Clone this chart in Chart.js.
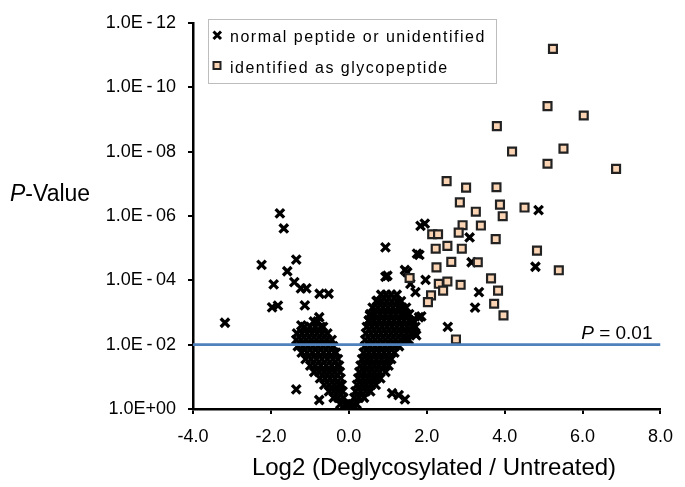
<!DOCTYPE html>
<html>
<head>
<meta charset="utf-8">
<title>Volcano plot</title>
<script src="https://cdn.jsdelivr.net/npm/chart.js@4.4.0/dist/chart.umd.min.js"></script>
<style>
  html, body { margin: 0; padding: 0; background: #fff; }
  #wrap { width: 685px; height: 487px; position: relative; }
</style>
</head>
<body>
<div id="wrap"><canvas id="volcano"></canvas></div>
<script>
// Data: x = log2(deglycosylated / untreated), y = -log10(P)
const xTicks = [-4, -2, 0, 2, 4, 6, 8];
const yTicks = [0, 2, 4, 6, 8, 10, 12];
const threshold = 2; // P = 0.01

// glycopeptides (squares)
const glycoPoints = [
  [5.24, 11.19], [5.10, 9.41], [6.03, 9.12], [3.80, 8.79], [4.19, 8.00], [5.51, 8.09],
  [5.10, 7.62], [6.86, 7.46], [2.51, 7.08], [3.01, 6.88], [3.79, 6.89], [2.85, 6.42],
  [3.88, 6.35], [4.51, 6.26], [3.26, 6.13], [3.95, 5.99], [2.92, 5.71], [3.39, 5.70],
  [2.14, 5.43], [2.29, 5.43], [2.82, 5.48], [3.77, 5.28], [2.23, 4.98], [2.53, 5.07],
  [2.90, 4.98], [4.83, 4.92], [2.63, 4.57], [2.25, 4.40], [3.31, 4.56], [5.39, 4.31],
  [1.56, 4.07], [3.65, 4.06], [2.31, 3.89], [2.53, 3.96], [2.87, 3.86], [3.83, 3.68],
  [2.42, 3.68], [2.11, 3.53], [2.03, 3.32], [3.73, 3.27], [3.97, 2.91], [2.75, 2.16]
];

// normal / unidentified, scattered ones
const normalOutliers = [
  [4.87, 6.18], [4.79, 4.42], [1.84, 5.69], [1.95, 5.76], [3.10, 5.33], [0.94, 5.02],
  [1.75, 4.83], [1.81, 4.79], [3.15, 4.56], [1.44, 4.32], [1.50, 4.25], [0.94, 4.11],
  [0.99, 4.14], [1.97, 4.01], [1.71, 3.63], [3.34, 3.63], [3.24, 3.15], [1.86, 2.88],
  [2.54, 2.55], [1.73, 2.29], [1.58, 3.89], [1.11, 0.49], [1.28, 0.43], [1.44, 0.30],
  [0.54, 2.91], [0.73, 3.37], [0.52, 2.75], [1.80, 2.85],
  [-1.77, 6.08], [-1.67, 5.61], [-2.24, 4.48], [-1.35, 4.64], [-1.58, 4.28], [-1.93, 3.87],
  [-1.40, 3.94], [-1.23, 3.75], [-1.09, 3.75], [-0.75, 3.58], [-0.52, 3.58], [-1.97, 3.16],
  [-1.82, 3.21], [-1.13, 3.22], [-3.18, 2.68], [-0.76, 2.85], [-1.22, 2.60], [-1.35, 0.61],
  [-0.76, 0.28]
];

// dense V cluster, read row by row: [y, [x, x, ...]]
const leftArmRows = [
  [0.15, [-0.22, -0.10, 0.00]],
  [0.35, [-0.39, -0.27, -0.14]],
  [0.55, [-0.51, -0.39, -0.27, -0.16]],
  [0.75, [-0.63, -0.50, -0.37, -0.25, -0.18]],
  [0.95, [-0.74, -0.61, -0.48, -0.35, -0.21]],
  [1.15, [-0.89, -0.76, -0.63, -0.50, -0.37, -0.23]],
  [1.35, [-0.99, -0.86, -0.72, -0.58, -0.44, -0.30, -0.25]],
  [1.55, [-1.11, -0.97, -0.83, -0.69, -0.55, -0.41, -0.28]],
  [1.75, [-1.21, -1.07, -0.93, -0.79, -0.65, -0.51, -0.37, -0.33]],
  [1.95, [-1.31, -1.18, -1.05, -0.92, -0.79, -0.66, -0.53, -0.40]],
  [2.15, [-1.35, -1.22, -1.09, -0.96, -0.83, -0.70, -0.57, -0.44]],
  [2.35, [-1.33, -1.20, -1.07, -0.94, -0.81, -0.68, -0.55]],
  [2.55, [-1.14, -1.00, -0.86, -0.72, -0.66]],
  [2.72, [-0.90, -0.80]]
];
const rightArmRows = [
  [0.15, [0.10, 0.20]],
  [0.35, [0.14, 0.26, 0.39]],
  [0.55, [0.17, 0.30, 0.43, 0.55]],
  [0.75, [0.21, 0.33, 0.45, 0.57, 0.69]],
  [0.95, [0.24, 0.36, 0.48, 0.60, 0.71, 0.81]],
  [1.15, [0.27, 0.40, 0.53, 0.66, 0.79, 0.94]],
  [1.35, [0.30, 0.42, 0.54, 0.66, 0.78, 0.90, 1.02]],
  [1.55, [0.34, 0.46, 0.58, 0.71, 0.84, 0.97, 1.09]],
  [1.75, [0.38, 0.51, 0.64, 0.77, 0.90, 1.03, 1.17]],
  [1.95, [0.41, 0.54, 0.67, 0.80, 0.93, 1.06, 1.18, 1.29]],
  [2.15, [0.42, 0.55, 0.68, 0.81, 0.94, 1.07, 1.20, 1.33, 1.45, 1.54]],
  [2.35, [0.44, 0.57, 0.70, 0.83, 0.96, 1.09, 1.22, 1.35, 1.48, 1.60, 1.69]],
  [2.55, [0.46, 0.59, 0.72, 0.85, 0.98, 1.11, 1.24, 1.37, 1.50, 1.62, 1.71]],
  [2.75, [0.51, 0.64, 0.77, 0.90, 1.03, 1.16, 1.29, 1.42, 1.55, 1.64]],
  [2.95, [0.55, 0.68, 0.81, 0.94, 1.07, 1.20, 1.33, 1.45, 1.55]],
  [3.15, [0.61, 0.74, 0.87, 1.00, 1.13, 1.26, 1.37, 1.47]],
  [3.35, [0.71, 0.84, 0.97, 1.10, 1.23, 1.34]],
  [3.55, [0.83, 0.96, 1.09, 1.23]]
];

const FONT = '"Liberation Sans", Arial, sans-serif';

const toXY = (pairs) => pairs.map(([x, y]) => ({ x, y }));
const rowsToXY = (rows) => rows.flatMap(([y, xs]) => xs.map(x => ({ x, y })));

const normalData = toXY(normalOutliers)
  .concat(rowsToXY(leftArmRows))
  .concat(rowsToXY(rightArmRows));

// tick label like Excel: 1.0E-06
const expLabel = (v) => v === 0 ? '1.0E+00' : '1.0E\u2009-\u2009' + String(v).padStart(2, '0');

// titles, threshold label and legend box
const overlay = {
  id: 'overlay',
  afterDraw(chart) {
    const ctx = chart.ctx;
    const area = chart.chartArea;
    ctx.save();
    ctx.fillStyle = '#000';
    ctx.textAlign = 'left';
    ctx.textBaseline = 'alphabetic';

    // y title
    ctx.font = 'italic 23px ' + FONT;
    ctx.fillText('P', 10, 201);
    let w = ctx.measureText('P').width;
    ctx.font = '23px ' + FONT;
    ctx.fillText('-Value', 10 + w, 201);

    // x title
    ctx.textAlign = 'center';
    ctx.font = '24px ' + FONT;
    ctx.fillText('Log2 (Deglycosylated / Untreated)', 434, 475);

    // P = 0.01
    const ty = chart.scales.y.getPixelForValue(threshold) - 6;
    ctx.textAlign = 'right';
    ctx.font = '19px ' + FONT;
    const rest = '= 0.01';
    const rx = area.right - 8;
    ctx.fillText(rest, rx, ty);
    w = ctx.measureText(rest).width;
    ctx.font = 'italic 19px ' + FONT;
    ctx.fillText('P ', rx - w, ty);

    // legend
    ctx.fillStyle = '#fff';
    ctx.fillRect(208, 19, 288, 64);
    ctx.strokeStyle = '#bdbdbd';
    ctx.lineWidth = 1;
    ctx.strokeRect(208.5, 19.5, 288, 64);

    ctx.strokeStyle = '#000';
    ctx.lineWidth = 3;
    ctx.beginPath();
    ctx.moveTo(213.5, 31.5); ctx.lineTo(221, 39);
    ctx.moveTo(221, 31.5); ctx.lineTo(213.5, 39);
    ctx.stroke();

    ctx.fillStyle = '#fbd4b4';
    ctx.fillRect(213.5, 62, 7, 7);
    ctx.strokeStyle = '#222';
    ctx.lineWidth = 2;
    ctx.strokeRect(213.5, 62, 7, 7);

    ctx.fillStyle = '#000';
    ctx.textAlign = 'left';
    ctx.font = '16px ' + FONT;
    ctx.letterSpacing = '1.5px';
    ctx.fillText('normal peptide or unidentified', 230, 42);
    ctx.fillText('identified as glycopeptide', 230, 73);
    ctx.restore();
  }
};

const ctx = document.getElementById('volcano').getContext('2d');

new Chart(ctx, {
  type: 'scatter',
  data: {
    datasets: [
      {
        label: 'P = 0.01',
        type: 'line',
        data: [{ x: xTicks[0], y: threshold }, { x: xTicks[xTicks.length - 1], y: threshold }],
        borderColor: '#4f81bd',
        borderWidth: 2.6,
        pointRadius: 0,
        order: 0
      },
      {
        label: 'identified as glycopeptide',
        data: toXY(glycoPoints),
        pointStyle: 'rect',
        pointRadius: 5.6,
        pointHoverRadius: 5.6,
        backgroundColor: '#fbd4b4',
        borderColor: '#222',
        borderWidth: 2.2,
        order: 1
      },
      {
        label: 'normal peptide or unidentified',
        data: normalData,
        pointStyle: 'crossRot',
        pointRadius: 6,
        pointHoverRadius: 6,
        borderColor: '#000',
        borderWidth: 3.3,
        clip: false,
        order: 2
      }
    ]
  },
  options: {
    responsive: true,
    maintainAspectRatio: false,
    animation: false,
    layout: { padding: { left: 0, right: 22, top: 21, bottom: 0 } },
    plugins: {
      legend: { display: false },
      tooltip: { enabled: false }
    },
    scales: {
      x: {
        type: 'linear',
        min: -4,
        max: 8,
        afterFit: s => { s.height = 78; },
        afterBuildTicks: s => { s.ticks = xTicks.map(v => ({ value: v })); },
        ticks: {
          callback: v => v.toFixed(1),
          color: '#000',
          font: { family: FONT, size: 18 },
          padding: 12,
          maxRotation: 0
        },
        grid: { drawOnChartArea: false, drawTicks: true, tickLength: 5, color: '#000', lineWidth: 2 },
        border: { display: true, color: '#000', width: 2.5 }
      },
      y: {
        type: 'linear',
        min: 0,
        max: 12,
        afterFit: s => { s.width = 193; },
        afterBuildTicks: s => { s.ticks = yTicks.map(v => ({ value: v })); },
        ticks: {
          callback: v => expLabel(v),
          color: '#000',
          font: { family: FONT, size: 18 },
          padding: 12
        },
        grid: { drawOnChartArea: false, drawTicks: true, tickLength: 5, color: '#000', lineWidth: 2 },
        border: { display: true, color: '#000', width: 2.5 }
      }
    }
  },
  plugins: [overlay]
});
</script>
</body>
</html>
